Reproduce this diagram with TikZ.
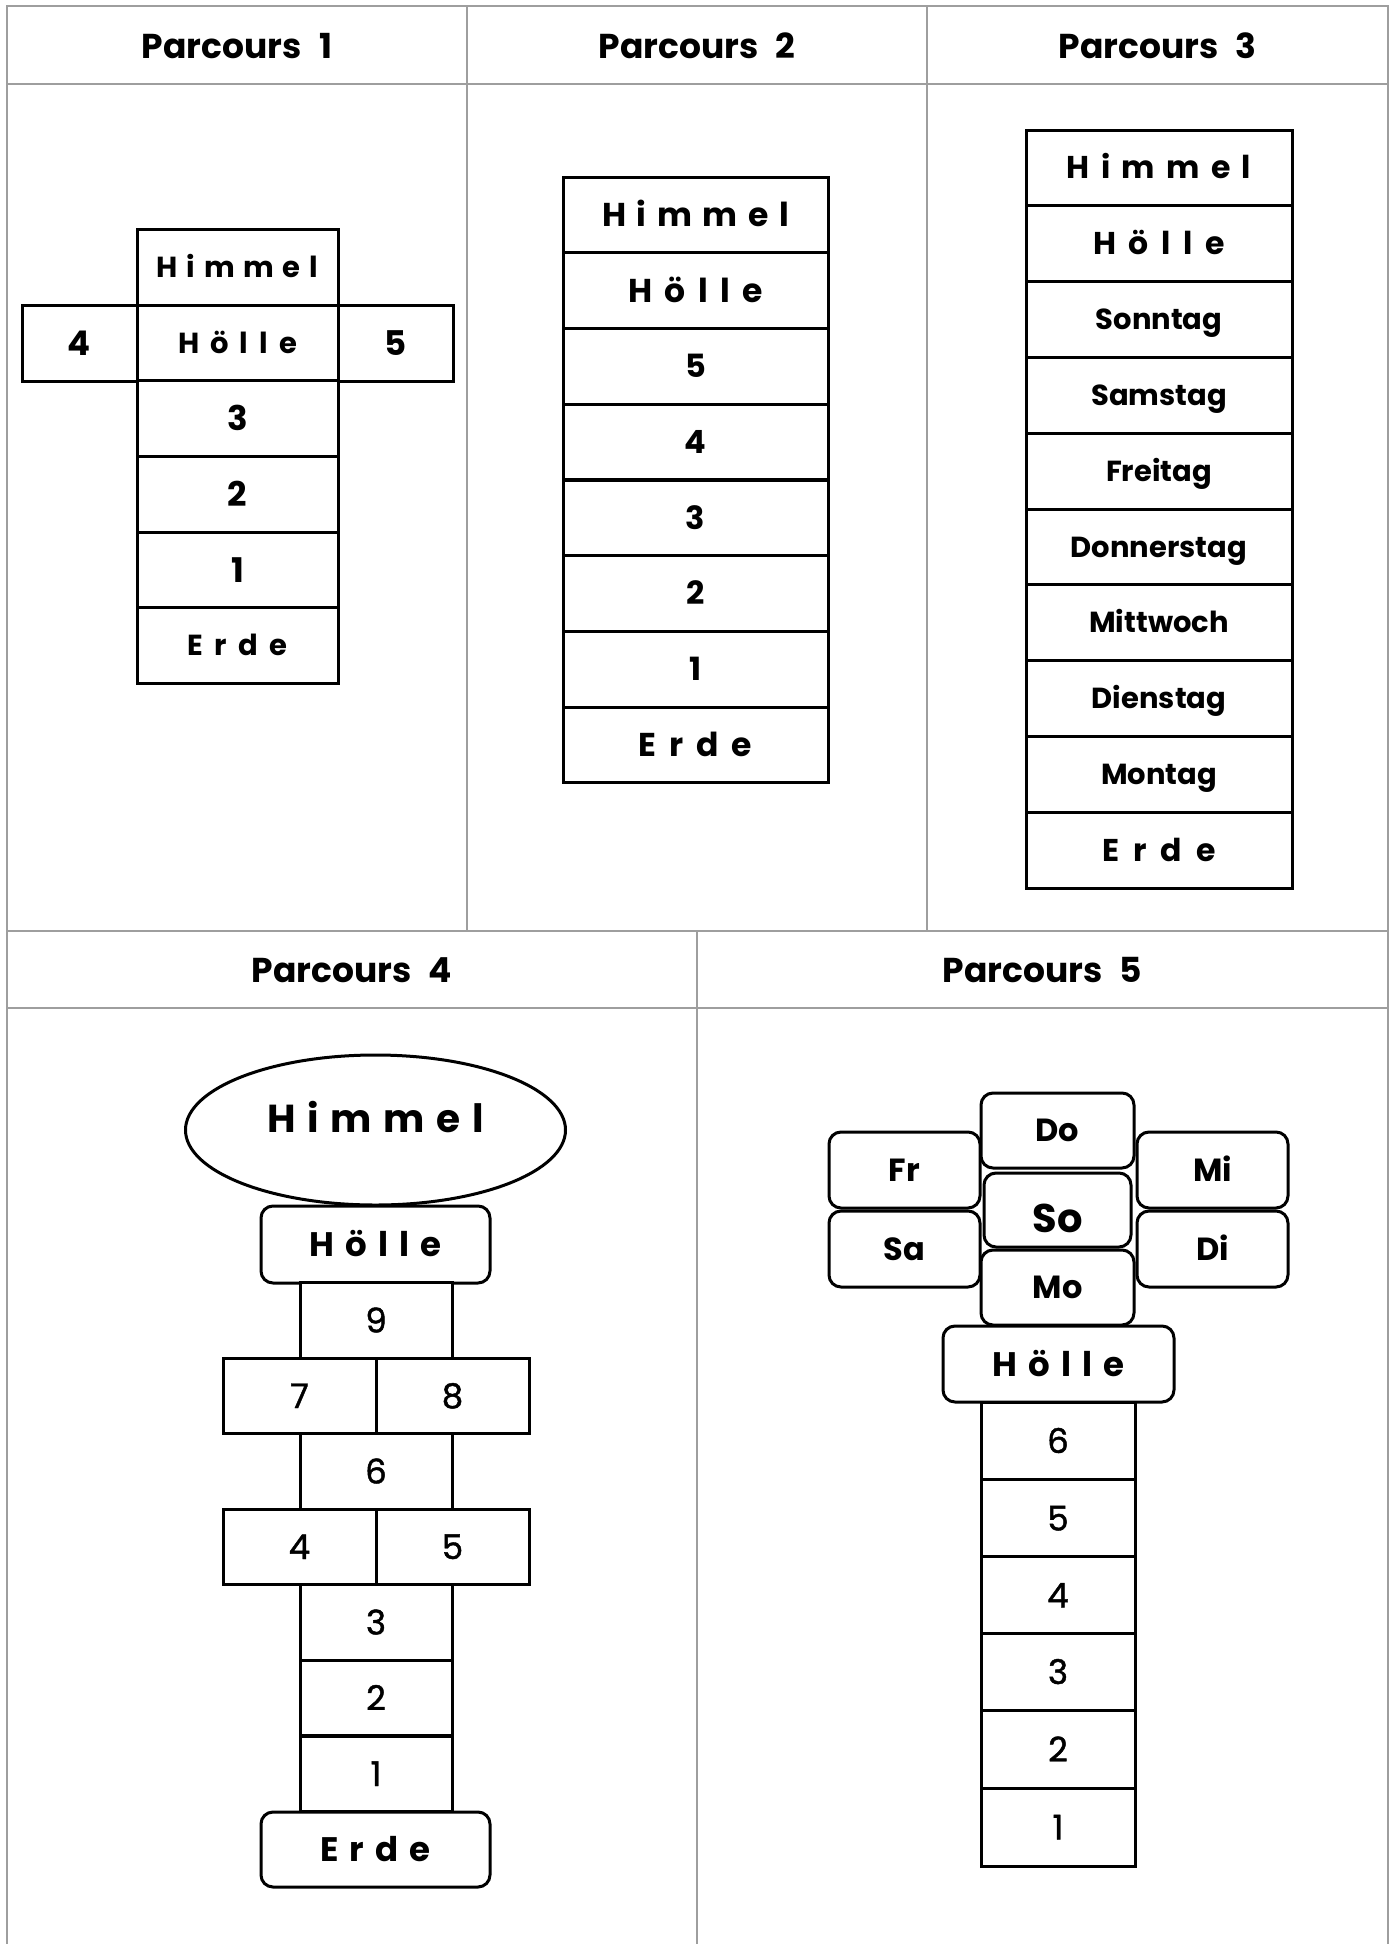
\documentclass[tikz,border=0pt]{standalone}
\usepackage{fontspec}
\setmainfont{Poppins}
\newfontfamily\popreg{Poppins}[FakeBold=1.3]
\usetikzlibrary{shapes.geometric}
\newcommand\fsz[1]{\fontsize{#1}{#1}\selectfont}
\newcommand\sw[2]{{\spaceskip#1\relax #2}}
\tikzset{
  grid/.style={draw=black!38, line width=1.5},
  cell/.style={draw, fill=white, line width=3, inner sep=0pt},
  rbox/.style={cell, rounded corners=12},
  title/.style={font=\fsz{34.5}\bfseries, text height=24pt, text depth=0pt},
  tA/.style={font=\fsz{29}\bfseries, text height=20.5pt, text depth=0pt},
  tB/.style={font=\fsz{34}\bfseries, text height=24pt, text depth=0pt},
  tC/.style={font=\fsz{33}\bfseries, text height=23pt, text depth=0pt},
  tC2/.style={font=\fsz{32}\bfseries, text height=22.5pt, text depth=0pt},
  tD/.style={font=\fsz{31.5}\bfseries, text height=22pt, text depth=0pt},
  tD2/.style={font=\fsz{29}\bfseries, text height=20.5pt, text depth=0pt},
  tE/.style={font=\fsz{39}\bfseries, text height=27.5pt, text depth=22pt},
  tF/.style={font=\fsz{34}\bfseries, text height=24pt, text depth=0pt},
  tG/.style={font=\fsz{34}\popreg, text height=24pt, text depth=0pt},
  tH/.style={font=\fsz{32}\bfseries, text height=22.5pt, text depth=0pt},
  tI/.style={font=\fsz{40}\bfseries, text height=44pt, text depth=0pt},
}
\begin{document}
\begin{tikzpicture}[x=1pt,y=-1pt]
\useasboundingbox (0,0) rectangle (1393,1944);
% table grid
\draw[grid] (7,1944) -- (7,6) -- (1388,6) -- (1388,1944);
\draw[grid] (7,84) -- (1388,84);
\draw[grid] (7,931) -- (1388,931);
\draw[grid] (7,1008) -- (1388,1008);
\draw[grid] (467,6) -- (467,931);
\draw[grid] (927,6) -- (927,931);
\draw[grid] (697,931) -- (697,1944);
% titles
\node[title] (t1) at (237,46) {\sw{.5em}{Parcours 1}};
\node[title] (t2) at (697,46) {\sw{.5em}{Parcours 2}};
\node[title] (t3) at (1157.5,46) {\sw{.5em}{Parcours 3}};
\node[title] (t4) at (352,970) {\sw{.5em}{Parcours 4}};
\node[title] (t5) at (1042.5,970) {\sw{.5em}{Parcours 5}};

% ---------- Parcours 1
\begin{scope}[every node/.append style={minimum height=76}]
\node[cell, tA, minimum width=201] (p1a) at (237.5,267) {\sw{.3em}{H i m m e l}};
\node[cell, tA, minimum width=201] (p1b) at (237.5,343) {\sw{.38em}{H ö l l e}};
\node[cell, tB, minimum width=115] (p1l) at (79.5,343) {4};
\node[cell, tB, minimum width=115] (p1r) at (395.5,343) {5};
\node[cell, tB, minimum width=201] (p1c) at (237.5,418.5) {3};
\node[cell, tB, minimum width=201] (p1d) at (237.5,494) {2};
\node[cell, tB, minimum width=201] (p1e) at (237.5,570) {1};
\node[cell, tA, minimum width=201] (p1f) at (237.5,645.5) {\sw{.4em}{E r d e}};
\end{scope}

% ---------- Parcours 2
\begin{scope}[every node/.append style={minimum height=75.75, minimum width=265}]
\node[cell, tC] (p2a) at (695.5,214.9) {\sw{.32em}{H i m m e l}};
\node[cell, tC] (p2b) at (695.5,290.6) {\sw{.37em}{H ö l l e}};
\node[cell, tC2] (p2c) at (695.5,366.4) {5};
\node[cell, tC2] (p2d) at (695.5,442.1) {4};
\node[cell, tC2] (p2e) at (695.5,517.9) {3};
\node[cell, tC2] (p2f) at (695.5,593.6) {2};
\node[cell, tC2] (p2g) at (695.5,669.4) {1};
\node[cell, tC] (p2h) at (695.5,745.1) {\sw{.39em}{E r d e}};
\end{scope}

% ---------- Parcours 3
\begin{scope}[every node/.append style={minimum height=75.8, minimum width=266}]
\node[cell, tD] (p3a) at (1159,167.9) {\sw{.36em}{H i m m e l}};
\node[cell, tD] (p3b) at (1159,243.7) {\sw{.4em}{H ö l l e}};
\node[cell, tD2] (p3c) at (1159,319.5) {Sonntag};
\node[cell, tD2] (p3d) at (1159,395.3) {Samstag};
\node[cell, tD2] (p3e) at (1159,471.1) {Freitag};
\node[cell, tD2] (p3f) at (1159,546.9) {Donnerstag};
\node[cell, tD2] (p3g) at (1159,622.7) {Mittwoch};
\node[cell, tD2] (p3h) at (1159,698.5) {Dienstag};
\node[cell, tD2] (p3i) at (1159,774.3) {Montag};
\node[cell, tD] (p3j) at (1159,850.1) {\sw{.44em}{E r d e}};
\end{scope}

% ---------- Parcours 4
\node[ellipse, draw, line width=3, inner sep=0pt, minimum width=380, minimum height=150, tE] (p4him) at (375.5,1130) {\sw{.3em}{H i m m e l}};
\node[rbox, tF, minimum width=229, minimum height=77] (p4hol) at (375.5,1244.5) {\sw{.32em}{H ö l l e}};
\begin{scope}[every node/.append style={minimum height=75.5}]
\node[cell, tG, minimum width=152] (p4n9) at (376,1320.5) {9};
\node[cell, tG, minimum width=153] (p4n7) at (299.5,1396) {7};
\node[cell, tG, minimum width=153] (p4n8) at (452.5,1396) {8};
\node[cell, tG, minimum width=152] (p4n6) at (376,1471.5) {6};
\node[cell, tG, minimum width=153] (p4n4) at (299.5,1547) {4};
\node[cell, tG, minimum width=153] (p4n5) at (452.5,1547) {5};
\node[cell, tG, minimum width=152] (p4n3) at (376,1622.5) {3};
\node[cell, tG, minimum width=152] (p4n2) at (376,1698) {2};
\node[cell, tG, minimum width=152] (p4n1) at (376,1774) {1};
\end{scope}
\node[rbox, tF, minimum width=229, minimum height=75] (p4erd) at (375.5,1849.5) {\sw{.33em}{E r d e}};

% ---------- Parcours 5
\begin{scope}[every node/.append style={minimum width=154, minimum height=77.4}]
\node[cell, tG] (p5n6) at (1058,1441) {6};
\node[cell, tG] (p5n5) at (1058,1518.5) {5};
\node[cell, tG] (p5n4) at (1058,1595.5) {4};
\node[cell, tG] (p5n3) at (1058,1672) {3};
\node[cell, tG] (p5n2) at (1058,1749.5) {2};
\node[cell, tG] (p5n1) at (1058,1827.5) {1};
\end{scope}
\node[rbox, tH, minimum width=151, minimum height=76] (p5fr) at (904.5,1170) {Fr};
\node[rbox, tH, minimum width=151, minimum height=76] (p5sa) at (904.5,1249) {Sa};
\node[rbox, tH, minimum width=151, minimum height=76] (p5mi) at (1212.5,1170) {Mi};
\node[rbox, tH, minimum width=151, minimum height=76] (p5di) at (1212.5,1249) {Di};
\node[rbox, tH, minimum width=153, minimum height=75] (p5do) at (1057.5,1130.5) {Do};
\node[rbox, tH, minimum width=153, minimum height=75] (p5mo) at (1057.5,1287.5) {Mo};
\node[rbox, tI, minimum width=147, minimum height=74] (p5so) at (1057.5,1210) {So};
\node[rbox, tF, minimum width=231, minimum height=76] (p5hol) at (1058.5,1364) {\sw{.32em}{H ö l l e}};
\end{tikzpicture}
\end{document}
